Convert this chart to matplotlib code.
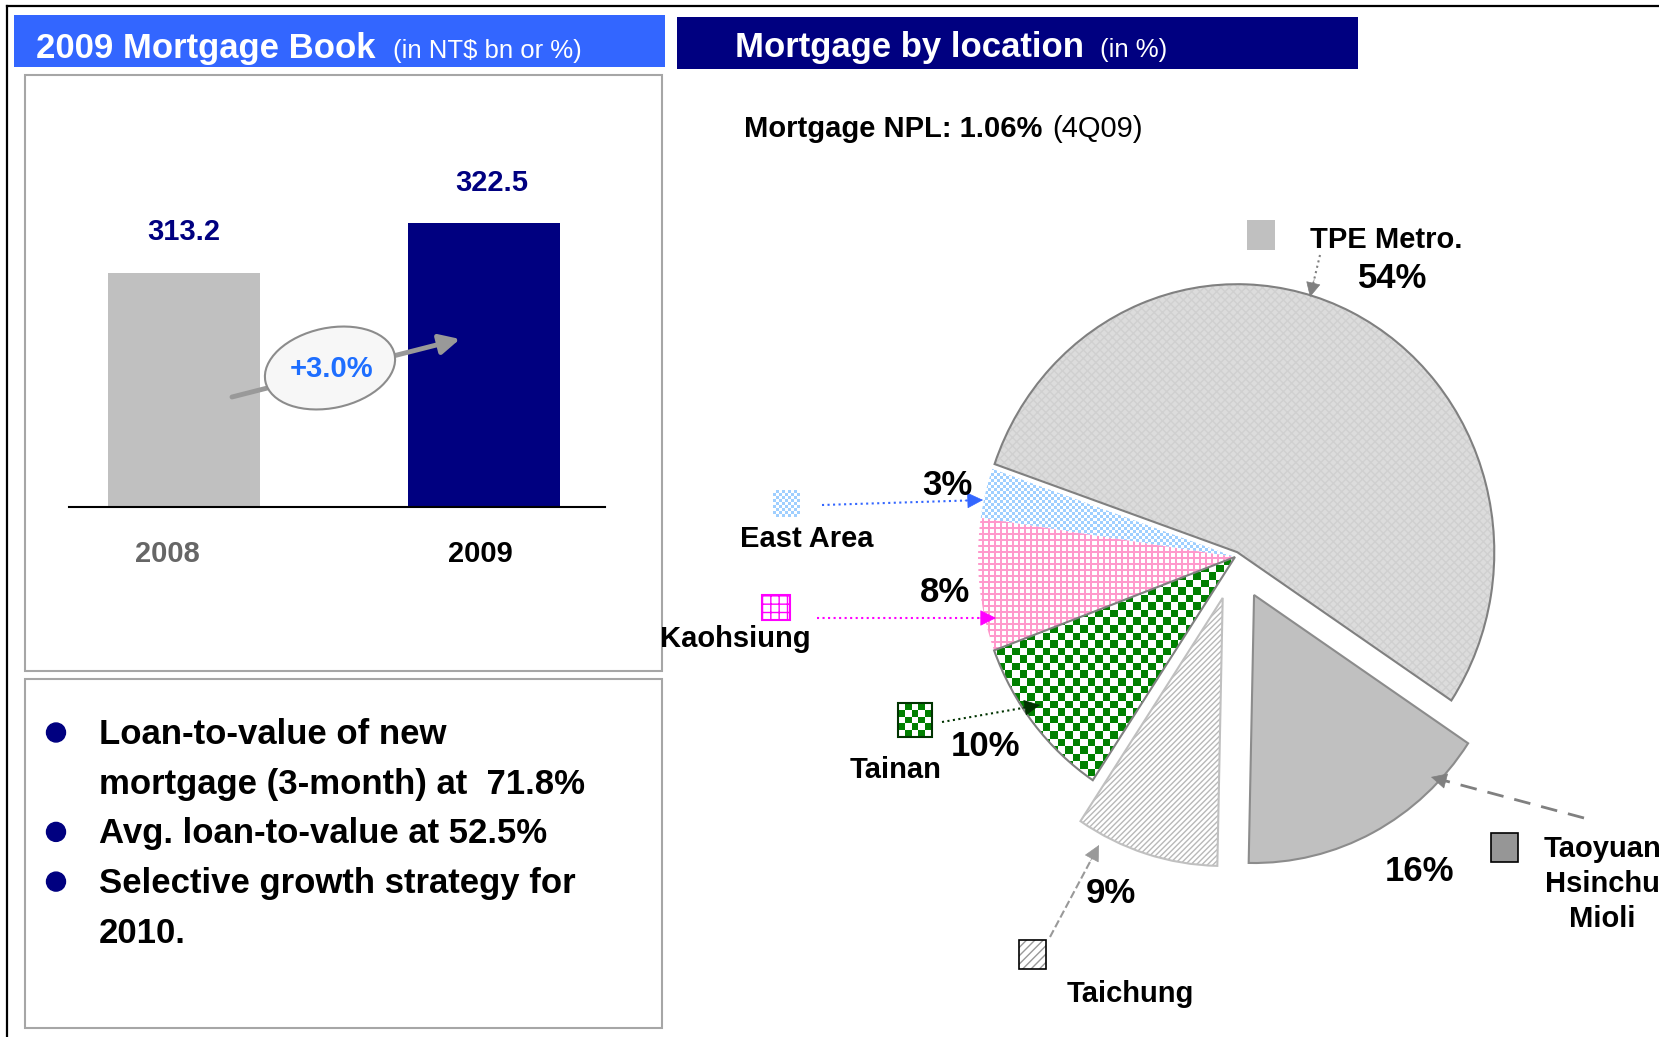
import numpy as np
import matplotlib
matplotlib.use('Agg')
import matplotlib.pyplot as plt
import matplotlib.patches as mpatches
from matplotlib.colors import ListedColormap

plt.rcParams['font.family'] = 'Liberation Sans'
plt.rcParams['hatch.linewidth'] = 1.0

W, H = 1659, 1037

# 2009 mortgage book (NT$ bn)
years = ['2008', '2009']
book = [313.2, 322.5]
growth = '+3.0%'

# mortgage by location (%)
regions = ['TPE Metro.', 'East Area', 'Kaohsiung', 'Tainan', 'Taichung',
           'Taoyuan\nHsinchu\nMioli']
shares = [54, 3, 8, 10, 9, 16]
explode = [0.02, 0, 0, 0, 0.16, 0.16]
npl = '1.06%'
npl_period = '(4Q09)'

bullet_lines = [('Loan-to-value of new', True),
                ('mortgage (3-month) at  71.8%', False),
                ('Avg. loan-to-value at 52.5%', True),
                ('Selective growth strategy for', True),
                ('2010.', False)]

NAVY = '#000080'


def checker(ny, nx):
    return np.indices((ny, nx)).sum(axis=0) % 2


def grid(ny, nx):
    i, j = np.indices((ny, nx))
    return ((i % 3 == 0) | (j % 3 == 0)).astype(int)


fig = plt.figure(figsize=(W / 100, H / 100), dpi=100)

# ---------------- pie (unit radius, axes scaled to pixels) ----------------
PCX, PCY, RX, RY = 1235, 557, 257, 268
pax = fig.add_axes([0, 0, 1, 1])
wedges, _ = pax.pie(shares, explode=explode, startangle=-33.6, counterclock=True,
                    radius=1, center=(0, 0), frame=True)

# face, hatch, hatch colour, outline
styles = [('#DCDCDC', 'xxxx', '#D0D0D0', '#808080'),
          ('white', None, 'white', None),
          ('white', None, 'white', None),
          ('white', None, 'white', '#808080'),
          ('white', '//////', '#B8B8B8', '#C0C0C0'),
          ('#C0C0C0', None, '#C0C0C0', '#8C8C8C')]
for w, (fc, hatch, hc, oc) in zip(wedges, styles):
    w.set_facecolor(fc)
    w.set_hatch(hatch)
    w.set_edgecolor(hc)
    w.set_linewidth(0)
    if oc:
        pax.add_patch(mpatches.Wedge(w.center, w.r, w.theta1, w.theta2, fill=False,
                                     edgecolor=oc, lw=1.5, zorder=3))

# pixel patterns for East Area, Kaohsiung and Tainan
for idx, func, cols, cell in [(1, checker, ['white', '#9FCFFF'], 3),
                              (2, grid, ['white', '#FF99CC'], 2),
                              (3, checker, ['white', '#008000'], 7.5)]:
    ny, nx = int(2.2 * RY / cell), int(2.2 * RX / cell)
    im = pax.imshow(func(ny, nx), extent=(-1.1, 1.1, -1.1, 1.1), interpolation='nearest',
                    cmap=ListedColormap(cols), vmin=0, vmax=1, aspect='auto', zorder=2)
    im.set_clip_path(wedges[idx])

pax.set_xlim(-PCX / RX, (W - PCX) / RX)
pax.set_ylim(-(H - PCY) / RY, PCY / RY)
pax.set_aspect('auto')
pax.axis('off')

# ---------------- bar chart ----------------
bx0, bx1, by_base, by_top = 69, 605, 507, 75
bax = fig.add_axes([bx0 / W, (H - by_base) / H, (bx1 - bx0) / W, (by_base - by_top) / H])
xpos = np.arange(len(years))
bax.bar(xpos, book, width=0.507, color=['#C0C0C0', NAVY])
bax.set_xlim(-0.383, 1.405)
bax.set_ylim(269.7, 350.1)
for s in ['top', 'left', 'right']:
    bax.spines[s].set_visible(False)
bax.spines['bottom'].set_linewidth(1.5)
bax.set_yticks([])
bax.set_xticks([])
for i, (yr, c, dx) in enumerate(zip(years, ['#666666', 'black'], [-12, -2])):
    bax.annotate(yr, (i, 0), xycoords=bax.get_xaxis_transform(), xytext=(dx, -24),
                 textcoords='offset points', ha='center', va='top', color=c,
                 fontsize=21, fontweight='bold')
for i, v in enumerate(book):
    bax.annotate(f'{v:.1f}', (i, v), xytext=(6 * i, 24 - i), textcoords='offset points',
                 ha='center', va='baseline', color=NAVY, fontsize=21, fontweight='bold')
bax.patch.set_alpha(0)

# ---------------- overlay in picture pixels (y down) ----------------
ax = fig.add_axes([0, 0, 1, 1])

# outer frame lines
ax.plot([7, W], [6, 6], color='black', lw=1.6)
ax.plot([7, 7], [6, H], color='black', lw=1.6)

# title bars
ax.add_patch(mpatches.Rectangle((14, 15), 651, 52, color='#3366FF', lw=0))
ax.add_patch(mpatches.Rectangle((677, 17), 681, 52, color=NAVY, lw=0))
ax.text(36, 58, '2009 Mortgage Book', color='white', fontsize=25, fontweight='bold', va='baseline')
ax.text(393, 58, '(in NT$ bn or %)', color='white', fontsize=18.5, va='baseline')
ax.text(735, 57, 'Mortgage by location', color='white', fontsize=25, fontweight='bold', va='baseline')
ax.text(1100, 57, '(in %)', color='white', fontsize=18.5, va='baseline')

# panel frames
ax.add_patch(mpatches.Rectangle((24.5, 75), 637, 596, fill=False, ec='#A6A6A6', lw=1.5))
ax.add_patch(mpatches.Rectangle((25, 679), 637, 349, fill=False, ec='#A6A6A6', lw=1.5))

# growth arrow and bubble
ax.annotate('', xy=(460, 339), xytext=(232, 397),
            arrowprops=dict(arrowstyle='-|>', color='#999999', lw=3.5, mutation_scale=30,
                            shrinkA=0, shrinkB=0))
ax.add_patch(mpatches.Ellipse((330, 368), 132, 80, angle=-12, facecolor='#F7F7F7',
                              edgecolor='#8C8C8C', lw=1.5, zorder=3))
ax.text(332, 369, growth, color='#1E6EFF', fontsize=21, fontweight='bold',
        ha='center', va='center', zorder=4)

# bullets
for k, (line, dot) in enumerate(bullet_lines):
    base = 744 + 49.7 * k
    ax.text(99, base, line, fontsize=25, fontweight='bold', va='baseline')
    if dot:
        ax.add_patch(mpatches.Circle((56, base - 11.5), 9.5, color=NAVY))

# NPL note
ax.text(744, 137, 'Mortgage NPL: ' + npl, fontsize=21, fontweight='bold', va='baseline')
ax.text(1052, 137, npl_period, fontsize=21, va='baseline')


def pointer(x0, y0, x1, y1, color, ls, lw=1.5, head=26):
    d = np.hypot(x1 - x0, y1 - y0)
    ux, uy = (x1 - x0) / d, (y1 - y0) / d
    ax.plot([x0, x1 - ux * 12], [y0, y1 - uy * 12], color=color, ls=ls, lw=lw)
    ax.annotate('', xy=(x1, y1), xytext=(x1 - ux * 18, y1 - uy * 18),
                arrowprops=dict(arrowstyle='-|>', color=color, lw=0.5,
                                mutation_scale=head, shrinkA=0, shrinkB=0))


def swatch(x, y, w, h, func, cols, cell):
    ax.imshow(func(int(h / cell), int(w / cell)), extent=(x, x + w, y + h, y),
              interpolation='nearest', cmap=ListedColormap(cols), vmin=0, vmax=1,
              aspect='auto')


# legend squares
ax.add_patch(mpatches.Rectangle((1247, 220), 28, 30, fc='#C0C0C0', lw=0))
swatch(773, 490, 27, 27, checker, ['white', '#9FCFFF'], 3)
ax.add_patch(mpatches.Rectangle((762, 595), 28, 25, fc='white', hatch='++', ec='#FF00FF', lw=1.5))
swatch(898, 703, 34, 34, checker, ['white', '#008000'], 6.8)
ax.add_patch(mpatches.Rectangle((898, 703), 34, 34, fill=False, ec='#003300', lw=1.5))
ax.add_patch(mpatches.Rectangle((1019, 940), 27, 29, fc='white', hatch='////', ec='#999999', lw=0))
ax.add_patch(mpatches.Rectangle((1019, 940), 27, 29, fill=False, ec='black', lw=1.2))
ax.add_patch(mpatches.Rectangle((1491, 833), 27, 29, fc='#969696', ec='black', lw=1.2))

# labels and percentages
pct = [f'{s}%' for s in shares]
ax.text(1310, 248, regions[0], fontsize=21, fontweight='bold', va='baseline')
ax.text(1358, 288, pct[0], fontsize=25, fontweight='bold', va='baseline')
pointer(1320, 255, 1310, 297, '#808080', ':', head=24)

ax.text(807, 547, regions[1], fontsize=21, fontweight='bold', va='baseline', ha='center')
ax.text(922, 495, pct[1], fontsize=25, fontweight='bold', va='baseline', zorder=5)
pointer(822, 505, 983, 500, '#3366FF', ':')

ax.text(735, 647, regions[2], fontsize=21, fontweight='bold', va='baseline', ha='center')
ax.text(920, 602, pct[2], fontsize=25, fontweight='bold', va='baseline')
pointer(817, 618, 996, 618, '#FF00FF', ':')

ax.text(896, 778, regions[3], fontsize=21, fontweight='bold', va='baseline', ha='center')
ax.text(951, 756, pct[3], fontsize=25, fontweight='bold', va='baseline')
pointer(942, 722, 1040, 705, '#003300', ':')

ax.text(1130, 1002, regions[4], fontsize=21, fontweight='bold', va='baseline', ha='center')
ax.text(1086, 903, pct[4], fontsize=25, fontweight='bold', va='baseline')
pointer(1050, 937, 1099, 845, '#999999', '--')

for k, part in enumerate(regions[5].split('\n')):
    ax.text(1602, 857 + 35 * k, part, fontsize=21, fontweight='bold', va='baseline', ha='center')
ax.text(1385, 881, pct[5], fontsize=25, fontweight='bold', va='baseline')
pointer(1584, 818, 1431, 777, '#808080', (0, (6, 4)), lw=2)

ax.set_xlim(0, W)
ax.set_ylim(H, 0)
ax.axis('off')

fig.savefig('out.png', dpi=100)
